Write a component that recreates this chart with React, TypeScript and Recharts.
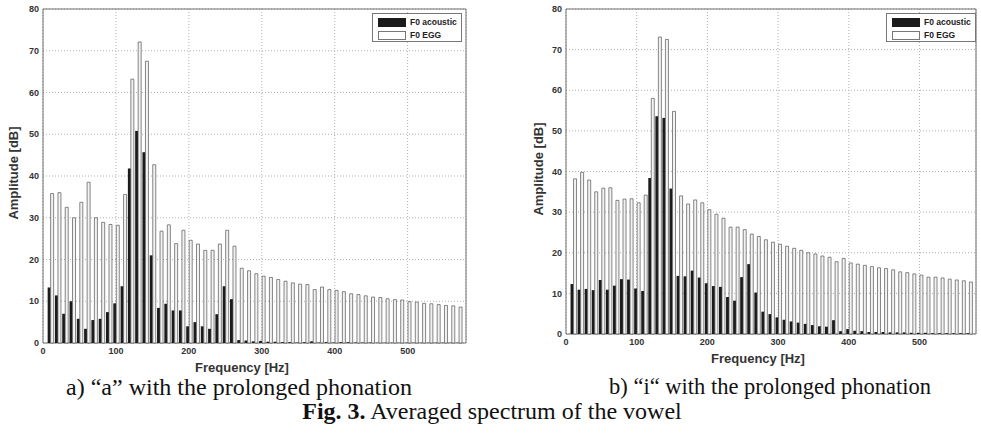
import React from 'react'
import { BarChart, Bar, XAxis, YAxis, CartesianGrid, ReferenceArea } from 'recharts'

// harmonic frequencies (Hz), one pair of bars per frequency
const FREQS = [
  10, 20, 30, 40, 50, 60, 70, 80, 90, 100, 110, 120, 130, 140, 150, 160, 170, 180, 190,
  200, 210, 220, 230, 240, 250, 260, 270, 280, 290, 300, 310, 320, 330, 340, 350, 360,
  370, 380, 390, 400, 410, 420, 430, 440, 450, 460, 470, 480, 490, 500, 510, 520, 530,
  540, 550, 560, 570,
]

// a) vowel "a"
const A_ACOUSTIC = [
  13.3, 11.4, 7.0, 10.0, 5.8, 3.4, 5.5, 5.8, 7.4, 9.5, 13.6, 41.8, 50.8, 45.7, 21.0, 8.4, 9.4, 7.8, 7.8,
  4.0, 5.0, 4.0, 3.4, 6.9, 13.6, 10.5, 0.7, 0.6, 0.4, 0.5, 0.3, 0.3, 0.2, 0.2, 0.1, 0.2,
  0.4, 0.1, 0.2, 0.1, 0.2, 0.2, 0.1, 0.1, 0.1, 0.05, 0.05, 0.05, 0.05, 0.05, 0.05, 0.05, 0.05,
  0.05, 0.05, 0.05, 0.05,
]
const A_EGG = [
  35.8, 36.0, 32.5, 30.0, 33.7, 38.5, 30.0, 28.9, 28.4, 28.2, 35.6, 63.2, 72.1, 67.5, 42.7, 26.8, 28.3, 23.8, 27.0,
  24.6, 23.7, 22.2, 22.2, 23.7, 27.0, 23.2, 17.9, 17.3, 16.6, 16.0, 15.7, 15.2, 14.8, 14.4, 14.1, 14.0,
  12.8, 13.4, 12.8, 12.6, 12.3, 11.8, 11.6, 11.3, 11.0, 10.9, 10.6, 10.4, 10.3, 9.9, 9.8, 9.5, 9.4,
  9.2, 9.0, 8.9, 8.6,
]

// b) vowel "i"
const B_ACOUSTIC = [
  12.3, 10.9, 11.1, 10.8, 13.3, 10.9, 11.9, 13.5, 13.4, 11.2, 10.6, 38.4, 53.6, 53.2, 35.8, 14.3, 14.2, 15.6, 13.9,
  12.5, 11.8, 11.6, 9.1, 8.2, 14.0, 17.2, 10.2, 5.5, 4.9, 4.1, 3.5, 3.1, 2.8, 2.5, 2.2, 1.9,
  1.8, 3.4, 0.7, 1.2, 0.8, 0.7, 0.5, 0.5, 0.5, 0.4, 0.4, 0.4, 0.3, 0.3, 0.3, 0.2, 0.2,
  0.2, 0.2, 0.2, 0.2,
]
const B_EGG = [
  38.2, 39.8, 37.9, 35.0, 35.9, 36.0, 32.9, 33.2, 33.3, 32.3, 34.2, 58.0, 73.1, 72.5, 54.8, 34.0, 32.0, 33.0, 32.3,
  30.6, 29.5, 28.5, 26.3, 26.3, 25.7, 24.6, 24.0, 23.2, 22.6, 22.1, 21.6, 21.1, 20.6, 20.0, 19.7, 19.2,
  18.9, 17.8, 18.6, 17.5, 17.2, 16.9, 16.6, 16.3, 16.1, 15.8, 15.3, 15.1, 14.8, 14.5, 14.0, 14.0, 13.8,
  13.5, 13.3, 13.1, 12.8,
]

const X_TICKS = [0, 100, 200, 300, 400, 500]
const Y_TICKS = [0, 10, 20, 30, 40, 50, 60, 70, 80]

const sans = '"Liberation Sans", Arial, sans-serif'
const serif = '"Liberation Serif", "Times New Roman", serif'
const tickStyle = { fill: '#333', fontFamily: sans, fontSize: 9, fontWeight: 'bold' as const }

interface SpectrumProps {
  acoustic: number[]
  egg: number[]
  width: number
  height: number
  margin: { top: number; right: number; bottom: number; left: number }
  yAxisWidth: number
  xAxisHeight: number
}

function Spectrum({ acoustic, egg, width, height, margin, yAxisWidth, xAxisHeight }: SpectrumProps) {
  const data = FREQS.map((f, i) => ({ f, acoustic: acoustic[i], egg: egg[i] }))
  return (
    <BarChart width={width} height={height} data={data} margin={margin} barGap={0}>
      <CartesianGrid stroke="#b0b0b0" strokeDasharray="1 2" />
      <XAxis
        dataKey="f"
        type="number"
        domain={[0, 580]}
        ticks={X_TICKS}
        interval={0}
        height={xAxisHeight}
        axisLine={false}
        tickLine={false}
        tickSize={3}
        tickMargin={2}
        tick={tickStyle}
      />
      <YAxis
        domain={[0, 80]}
        ticks={Y_TICKS}
        interval={0}
        width={yAxisWidth}
        axisLine={false}
        tickLine={false}
        tickSize={3}
        tickMargin={1}
        tick={tickStyle}
      />
      <ReferenceArea x1={0} x2={580} y1={0} y2={80} fill="none" stroke="#707070" strokeWidth={1} ifOverflow="visible" />
      <Bar dataKey="acoustic" fill="#1b1b1b" barSize={3} isAnimationActive={false} />
      <Bar dataKey="egg" fill="#f2f2f2" stroke="#555" strokeWidth={0.7} barSize={3} isAnimationActive={false} />
    </BarChart>
  )
}

function LegendBox({ left, top }: { left: number; top: number }) {
  const row = { display: 'flex', alignItems: 'center', height: 13 }
  const label = {
    fontFamily: sans, fontSize: 8.5, fontWeight: 'bold' as const, color: '#222',
    marginLeft: 4, whiteSpace: 'nowrap' as const, lineHeight: 1,
  }
  return (
    <div
      style={{
        position: 'absolute', left, top, width: 90, height: 29, border: '1px solid #777',
        background: '#fff', boxSizing: 'border-box', padding: '2px 0 0 5px',
      }}
    >
      <div style={row}>
        <div style={{ width: 28, height: 9, background: '#1b1b1b', flex: 'none' }} />
        <span style={label}>F0 acoustic</span>
      </div>
      <div style={row}>
        <div style={{ width: 28, height: 9, background: '#fff', border: '1px solid #777', boxSizing: 'border-box', flex: 'none' }} />
        <span style={label}>F0 EGG</span>
      </div>
    </div>
  )
}

function AxisTitle({ x, y, text, rotate }: { x: number; y: number; text: string; rotate?: boolean }) {
  return (
    <div
      style={{
        position: 'absolute', left: x, top: y, whiteSpace: 'nowrap', lineHeight: 1,
        transform: `translate(-50%, -50%)${rotate ? ' rotate(-90deg)' : ''}`,
        fontFamily: sans, fontSize: 13, fontWeight: 'bold', color: '#333',
      }}
    >
      {text}
    </div>
  )
}

const captionStyle = {
  position: 'absolute' as const, transform: 'translate(-50%, -50%)', whiteSpace: 'nowrap' as const,
  fontFamily: serif, fontSize: 24, lineHeight: 1, color: '#111',
}

export default function App() {
  return (
    <div style={{ position: 'absolute', left: 0, top: 0, width: 981, height: 434, background: '#fff', overflow: 'hidden' }}>
      <div style={{ position: 'absolute', left: 0, top: 0 }}>
        <Spectrum
          acoustic={A_ACOUSTIC}
          egg={A_EGG}
          width={480}
          height={380}
          margin={{ top: 9, right: 14, bottom: 0, left: 0 }}
          yAxisWidth={43}
          xAxisHeight={37}
        />
      </div>
      <div style={{ position: 'absolute', left: 490, top: 0 }}>
        <Spectrum
          acoustic={B_ACOUSTIC}
          egg={B_EGG}
          width={491}
          height={372}
          margin={{ top: 9, right: 5, bottom: 0, left: 32 }}
          yAxisWidth={44}
          xAxisHeight={38}
        />
      </div>

      <LegendBox left={372} top={13} />
      <LegendBox left={886} top={13} />

      <AxisTitle x={13} y={173} text="Amplitude [dB]" rotate />
      <AxisTitle x={242} y={367} text="Frequency [Hz]" />
      <AxisTitle x={538} y={169} text="Amplitude [dB]" rotate />
      <AxisTitle x={758} y={358} text="Frequency [Hz]" />

      <div style={{ ...captionStyle, left: 239, top: 387 }}>
        a) “a” with the prolonged phonation
      </div>
      <div style={{ ...captionStyle, left: 770, top: 387, fontSize: 22.5 }}>
        b) “i“ with the prolonged phonation
      </div>
      <div style={{ ...captionStyle, left: 492, top: 411 }}>
        <b>Fig. 3.</b> Averaged spectrum of the vowel
      </div>
    </div>
  )
}
